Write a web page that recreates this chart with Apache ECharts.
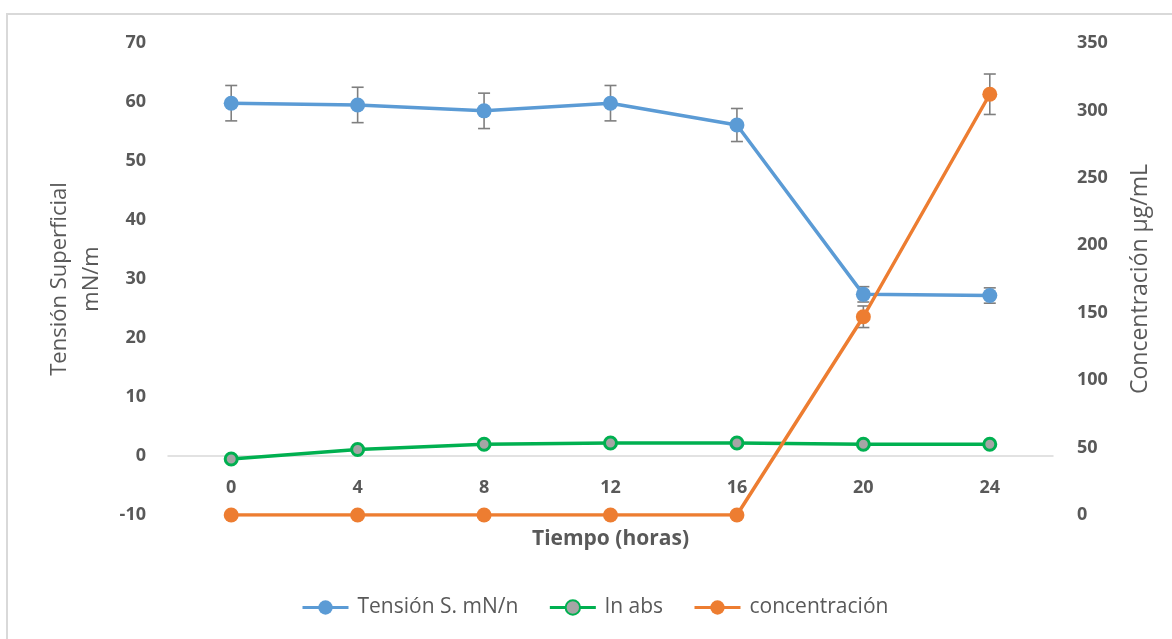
<!DOCTYPE html>
<html>
<head>
<meta charset="utf-8">
<script src="https://cdn.jsdelivr.net/npm/echarts@6/dist/echarts.min.js"></script>
<style>
  html, body { margin: 0; padding: 0; background: #fff; }
  #chart { width: 1172px; height: 639px; }
</style>
</head>
<body>
<div id="chart"></div>
<script>
// Time points (hours)
const hours = ['0', '4', '8', '12', '16', '20', '24'];
// Surface tension (mN/m) with its standard deviation
const tension = [59.8, 59.5, 58.5, 59.8, 56.1, 27.4, 27.2];
const tensionErr = [3.0, 3.0, 3.0, 3.0, 2.8, 1.3, 1.3];
// ln of absorbance
const lnAbs = [-0.5, 1.1, 2.0, 2.2, 2.2, 2.0, 2.0];
// Concentration (µg/mL) with its standard deviation
const concentracion = [0, 0, 0, 0, 0, 147, 312];
const concentracionErr = [null, null, null, null, null, 8, 15];

// Left and right axis ranges
const leftTicks = { min: -10, max: 70, step: 10 };
const rightTicks = { min: 0, max: 350, step: 50 };

const textColor = '#595959';
const fontFamily = '"Open Sans", "Noto Sans", sans-serif';

function errorData(values, errs) {
  const out = [];
  values.forEach((v, i) => {
    if (errs[i] != null) out.push([i, v, errs[i]]);
  });
  return out;
}

function errorBars(params, api) {
  const i = api.value(0);
  const v = api.value(1);
  const e = api.value(2);
  const top = api.coord([i, v + e]);
  const bot = api.coord([i, v - e]);
  const half = 6;
  const style = { stroke: '#7f7f7f', lineWidth: 1.6 };
  return {
    type: 'group',
    children: [
      { type: 'line', shape: { x1: top[0], y1: top[1], x2: bot[0], y2: bot[1] }, style },
      { type: 'line', shape: { x1: top[0] - half, y1: top[1], x2: top[0] + half, y2: top[1] }, style },
      { type: 'line', shape: { x1: bot[0] - half, y1: bot[1], x2: bot[0] + half, y2: bot[1] }, style }
    ]
  };
}

const chart = echarts.init(document.getElementById('chart'), null, { renderer: 'canvas' });

chart.setOption({
  backgroundColor: '#ffffff',
  animation: false,
  textStyle: { fontFamily },
  graphic: [{
    type: 'rect',
    shape: { x: 7, y: 14, width: 1200, height: 700 },
    style: { fill: 'none', stroke: '#d9d9d9', lineWidth: 2 },
    silent: true
  }],
  grid: { left: 168, right: 119, top: 43, bottom: 124 },
  legend: {
    left: 296,
    top: 592,
    itemWidth: 46,
    itemHeight: 18,
    itemGap: 30,
    lineStyle: { width: 3 },
    textStyle: { color: textColor, fontSize: 21, fontFamily, padding: [0, 0, 0, 4] },
    data: ['Tensión S. mN/n', 'ln abs', 'concentración']
  },
  xAxis: {
    type: 'category',
    data: hours,
    boundaryGap: true,
    name: 'Tiempo (horas)',
    nameLocation: 'middle',
    nameGap: 14,
    nameTextStyle: { color: textColor, fontSize: 21, fontWeight: 'bold', fontFamily },
    axisLine: { onZero: true, lineStyle: { color: '#d9d9d9', width: 1.5 } },
    axisTick: { show: false },
    axisLabel: { color: textColor, fontSize: 18, fontWeight: 'bold', margin: -36, fontFamily },
    splitLine: { show: false }
  },
  yAxis: [{
    type: 'value',
    min: leftTicks.min,
    max: leftTicks.max,
    interval: leftTicks.step,
    name: 'Tensión Superficial\nmN/m',
    nameLocation: 'middle',
    nameGap: 60,
    nameRotate: 90,
    nameTextStyle: { color: textColor, fontSize: 22, lineHeight: 32, fontFamily },
    axisLine: { show: false },
    axisTick: { show: false },
    splitLine: { show: false },
    axisLabel: { color: textColor, fontSize: 18, fontWeight: 'bold', margin: 22, fontFamily }
  }, {
    type: 'value',
    min: rightTicks.min,
    max: rightTicks.max,
    interval: rightTicks.step,
    position: 'right',
    name: 'Concentración µg/mL',
    nameLocation: 'middle',
    nameGap: 76,
    nameRotate: 90,
    nameTextStyle: { color: textColor, fontSize: 23, fontFamily },
    axisLine: { show: false },
    axisTick: { show: false },
    splitLine: { show: false },
    axisLabel: { color: textColor, fontSize: 18, fontWeight: 'bold', margin: 24, fontFamily }
  }],
  series: [{
    name: 'tension-err',
    type: 'custom',
    yAxisIndex: 0,
    z: 1,
    renderItem: errorBars,
    data: errorData(tension, tensionErr),
    silent: true
  }, {
    name: 'conc-err',
    type: 'custom',
    yAxisIndex: 1,
    z: 1,
    renderItem: errorBars,
    data: errorData(concentracion, concentracionErr),
    silent: true
  }, {
    name: 'Tensión S. mN/n',
    type: 'line',
    yAxisIndex: 0,
    z: 3,
    data: tension,
    symbol: 'circle',
    symbolSize: 15,
    lineStyle: { color: '#5B9BD5', width: 3.5 },
    itemStyle: { color: '#5B9BD5' }
  }, {
    name: 'ln abs',
    type: 'line',
    yAxisIndex: 0,
    z: 3,
    data: lnAbs,
    symbol: 'circle',
    symbolSize: 12,
    lineStyle: { color: '#00B050', width: 3.5 },
    itemStyle: { color: '#A5A5A5', borderColor: '#00B050', borderWidth: 3 }
  }, {
    name: 'concentración',
    type: 'line',
    yAxisIndex: 1,
    z: 3,
    data: concentracion,
    symbol: 'circle',
    symbolSize: 15,
    lineStyle: { color: '#ED7D31', width: 3.5 },
    itemStyle: { color: '#ED7D31' }
  }]
});
</script>
</body>
</html>
